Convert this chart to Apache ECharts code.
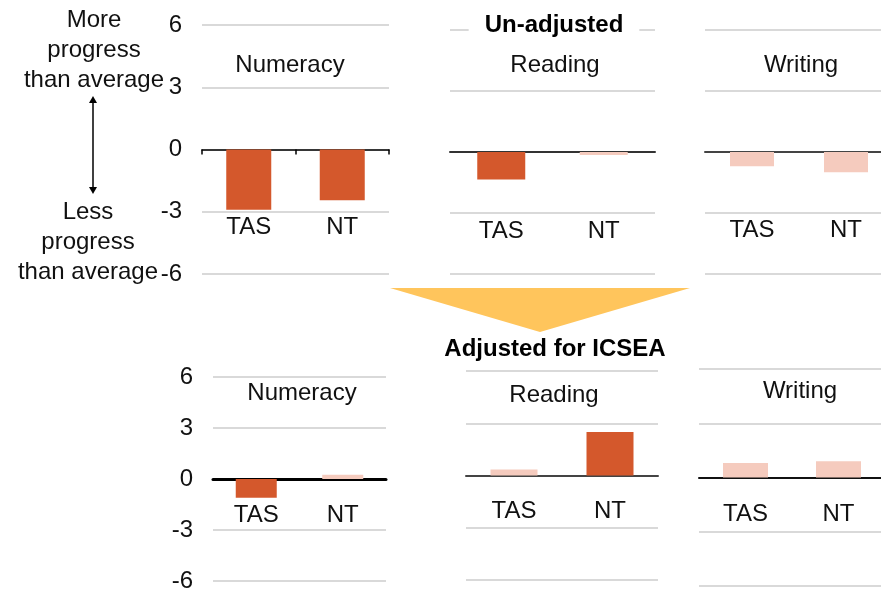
<!DOCTYPE html>
<html>
<head>
<meta charset="utf-8">
<script src="https://cdn.jsdelivr.net/npm/echarts@6/dist/echarts.min.js"></script>
<style>
  html, body { margin: 0; padding: 0; background: #fff; }
  #chart { width: 881px; height: 590px; }
</style>
</head>
<body>
<div id="chart"></div>
<script>
var categories = ['TAS', 'NT'];
var subjects = ['Numeracy', 'Reading', 'Writing'];
var yMin = -6;
var yMax = 6;
var yStep = 3;

var unadjustedNumeracy = [-2.9, -2.45];
var unadjustedReading = [-1.35, -0.15];
var unadjustedWriting = [-0.7, -1.0];
var adjustedNumeracy = [-1.1, 0.25];
var adjustedReading = [0.35, 2.5];
var adjustedWriting = [0.8, 0.9];

// 1 = dark bar, 0 = pale bar (per subject, per state)
var unadjustedDark = [[1, 1], [1, 0], [0, 0]];
var adjustedDark = [[1, 0], [0, 1], [0, 0]];

var DARK = '#d4582c';
var LIGHT = '#f5cbbe';
var FONT = 'Liberation Sans, Arial, sans-serif';
var TEXT = '#111';
var FS = 24;

var panelValues = [unadjustedNumeracy, unadjustedReading, unadjustedWriting,
                   adjustedNumeracy, adjustedReading, adjustedWriting];
var panelDark = unadjustedDark.concat(adjustedDark);

// where each small chart sits on the page (margin is measured from grid bottom)
var panels = [
    {left: 202, top: 25, width: 187, height: 249, barWidth: 45, margin: -59, axisColor: '#000', axisWidth: 1.5, ticks: true, yLabels: true, titleX: 290, titleY: 65},
    {left: 450, top: 30, width: 205, height: 244, barWidth: 48, margin: -55, axisColor: '#333', axisWidth: 2, ticks: false, yLabels: false, titleX: 555, titleY: 65},
    {left: 705, top: 30, width: 188, height: 244, barWidth: 44, margin: -56, axisColor: '#444', axisWidth: 2, ticks: false, yLabels: false, titleX: 801, titleY: 65},
    {left: 213, top: 377, width: 173, height: 204, barWidth: 41, margin: -78, axisColor: '#000', axisWidth: 3, ticks: false, yLabels: true, titleX: 302, titleY: 393},
    {left: 466, top: 371, width: 192, height: 209, barWidth: 47, margin: -81, axisColor: '#444', axisWidth: 2, ticks: false, yLabels: false, titleX: 554, titleY: 395},
    {left: 699, top: 369, width: 186, height: 217, barWidth: 45, margin: -84, axisColor: '#111', axisWidth: 2, ticks: false, yLabels: false, titleX: 800, titleY: 391}
];

var grids = [], xAxes = [], yAxes = [], series = [], graphics = [];

panels.forEach(function(p, i) {
    grids.push({left: p.left, top: p.top, width: p.width, height: p.height, outerBoundsMode: 'none', containLabel: false});
    xAxes.push({
        type: 'category',
        gridIndex: i,
        data: categories,
        axisLine: {onZero: true, lineStyle: {color: p.axisColor, width: p.axisWidth}},
        axisTick: {show: p.ticks, length: 5, lineStyle: {color: '#000', width: 1.5}},
        axisLabel: {margin: p.margin, fontSize: FS, fontFamily: FONT, color: TEXT}
    });
    yAxes.push({
        type: 'value',
        gridIndex: i,
        min: yMin,
        max: yMax,
        interval: yStep,
        axisLine: {show: false},
        axisTick: {show: false},
        axisLabel: {show: p.yLabels, margin: 20, fontSize: FS, fontFamily: FONT, color: TEXT},
        splitLine: {lineStyle: {color: '#d9d9d9', width: 2}}
    });
    series.push({
        type: 'bar',
        xAxisIndex: i,
        yAxisIndex: i,
        barWidth: p.barWidth,
        data: panelValues[i].map(function(v, j) {
            return {value: v, itemStyle: {color: panelDark[i][j] ? DARK : LIGHT}};
        })
    });
    graphics.push({
        type: 'text',
        x: p.titleX,
        y: p.titleY,
        style: {text: subjects[i % 3], fontSize: FS, fontFamily: FONT, fill: TEXT, textAlign: 'center', textVerticalAlign: 'middle'}
    });
});

graphics.push({
    type: 'text', x: 554, y: 25, z: 100,
    style: {text: 'Un-adjusted', fontSize: FS, fontWeight: 'bold', fontFamily: FONT, fill: '#000',
            textAlign: 'center', textVerticalAlign: 'middle', backgroundColor: '#fff', padding: [4, 16]}
});
graphics.push({
    type: 'text', x: 555, y: 349, z: 100,
    style: {text: 'Adjusted for ICSEA', fontSize: FS, fontWeight: 'bold', fontFamily: FONT, fill: '#000',
            textAlign: 'center', textVerticalAlign: 'middle'}
});
graphics.push({
    type: 'polygon', z: 50,
    shape: {points: [[390, 288], [690, 288], [540, 332]]},
    style: {fill: '#ffc55c'}
});
graphics.push({
    type: 'text', x: 94, y: 50,
    style: {text: 'More\nprogress\nthan average', fontSize: FS, lineHeight: 30, fontFamily: FONT, fill: TEXT,
            textAlign: 'center', textVerticalAlign: 'middle'}
});
graphics.push({
    type: 'text', x: 88, y: 242,
    style: {text: 'Less\nprogress\nthan average', fontSize: FS, lineHeight: 30, fontFamily: FONT, fill: TEXT,
            textAlign: 'center', textVerticalAlign: 'middle'}
});
// double headed arrow
graphics.push({
    type: 'line', shape: {x1: 93, y1: 100, x2: 93, y2: 190},
    style: {stroke: '#000', lineWidth: 1.5}
});
graphics.push({
    type: 'polygon', shape: {points: [[89, 103], [97, 103], [93, 96]]}, style: {fill: '#000'}
});
graphics.push({
    type: 'polygon', shape: {points: [[89, 187], [97, 187], [93, 194]]}, style: {fill: '#000'}
});

var chart = echarts.init(document.getElementById('chart'));

chart.setOption({
    animation: false,
    backgroundColor: '#fff',
    grid: grids,
    xAxis: xAxes,
    yAxis: yAxes,
    series: series,
    graphic: graphics
});
</script>
</body>
</html>
